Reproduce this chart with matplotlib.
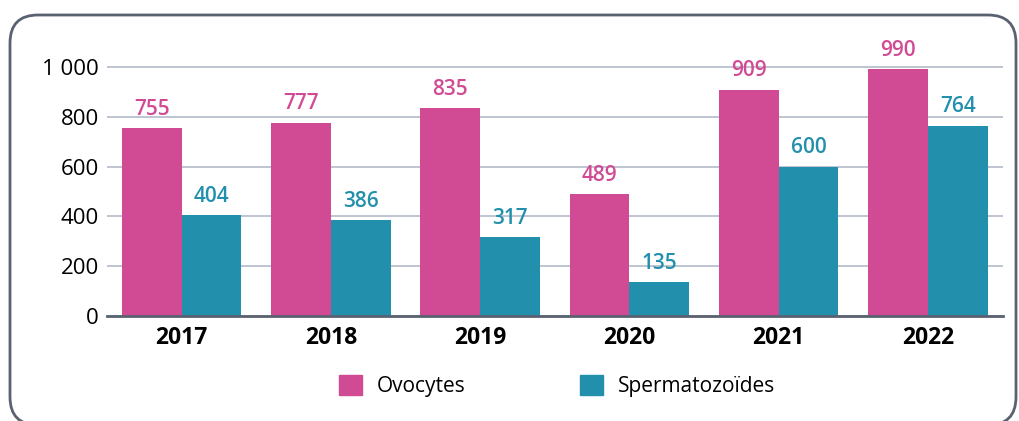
import matplotlib.pyplot as plt
import numpy as np
from matplotlib.patches import FancyBboxPatch, Patch
from matplotlib.ticker import FuncFormatter

years = ["2017", "2018", "2019", "2020", "2021", "2022"]
ovocytes = [755, 777, 835, 489, 909, 990]
spermatozoides = [404, 386, 317, 135, 600, 764]

PINK = "#d14b94"
TEAL = "#228fad"
GRID = "#bfc5d0"
BASE = "#5a6170"

plt.rcParams["font.family"] = ["Open Sans", "DejaVu Sans"]

fig = plt.figure(figsize=(10.19, 4.21), dpi=100)
ax = fig.add_axes([0.105, 0.2494, 0.879, 0.6152])

x = np.arange(len(years))
w = 0.4
b1 = ax.bar(x - w / 2, ovocytes, w, color=PINK, zorder=3)
b2 = ax.bar(x + w / 2, spermatozoides, w, color=TEAL, zorder=3)

for bars, vals, col in ((b1, ovocytes, PINK), (b2, spermatozoides, TEAL)):
    for rect, v in zip(bars, vals):
        ax.annotate(str(v), (rect.get_x() + rect.get_width() / 2, v),
                    xytext=(0, 6), textcoords="offset points",
                    ha="center", va="bottom", color=col,
                    fontsize=15, fontweight="semibold")

ax.set_xlim(-0.5, len(years) - 0.5)
ax.set_ylim(0, 1040)
ax.set_yticks([0, 200, 400, 600, 800, 1000])
ax.yaxis.set_major_formatter(FuncFormatter(lambda v, p: f"{int(v):,}".replace(",", " ")))
ax.set_xticks(x)
ax.set_xticklabels(years, fontsize=16.5, fontweight="bold")
ax.tick_params(axis="y", length=0, labelsize=16, pad=6)
ax.tick_params(axis="x", length=0, pad=7)
for s in ("top", "right", "left"):
    ax.spines[s].set_visible(False)
ax.spines["bottom"].set_color(BASE)
ax.spines["bottom"].set_linewidth(2)
ax.spines["bottom"].set_zorder(4)
ax.yaxis.grid(True, color=GRID, linewidth=1.4, zorder=0)
ax.set_axisbelow(True)

handles = [Patch(color=PINK, label="Ovocytes"), Patch(color=TEAL, label="Spermatozoïdes")]
fig.legend(handles=handles, loc="center", bbox_to_anchor=(557 / 1019, 1 - 386 / 421),
           ncol=2, frameon=False, fontsize=15, handlelength=1.1, handleheight=1.1,
           handletextpad=0.7, columnspacing=5.5)

# rounded frame around the chart, bottom edge just outside the picture
frame = FancyBboxPatch((10, -4), 1006, 410, boxstyle="round,pad=0,rounding_size=28",
                       transform=None, fill=False, edgecolor=BASE, linewidth=2)
fig.patches.append(frame)

fig.savefig("out.png", dpi=100)
